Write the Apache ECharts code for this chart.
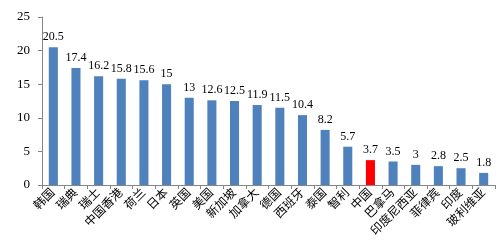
<!DOCTYPE html>
<html><head><meta charset="utf-8">
<script src="https://cdn.jsdelivr.net/npm/echarts@6/dist/echarts.min.js"></script>
<style>html,body{margin:0;padding:0;background:#fff}#c{width:503px;height:244px}</style>
</head><body><div id="c"></div>
<script>
const categories = ['韩国','瑞典','瑞士','中国香港','荷兰','日本','英国','美国','新加坡','加拿大','德国','西班牙','泰国','智利','中国','巴拿马','印度尼西亚','菲律宾','印度','玻利维亚'];
const values = [20.5,17.4,16.2,15.8,15.6,15,13,12.6,12.5,11.9,11.5,10.4,8.2,5.7,3.7,3.5,3,2.8,2.5,1.8];
const highlight = '中国';
const yTicks = [0,5,10,15,20,25];
const font = '"Liberation Serif","Noto Sans CJK SC",serif';
const chart = echarts.init(document.getElementById('c'));
chart.setOption({
  animation:false,
  grid:{left:42,right:8,top:17,bottom:59},
  xAxis:{type:'category',data:categories,
    axisLine:{lineStyle:{color:'#868686'}},
    axisTick:{show:true,alignWithLabel:false,lineStyle:{color:'#868686'},length:4},
    axisLabel:{rotate:45,interval:0,color:'#000',fontFamily:font,fontSize:12,margin:6}},
  yAxis:{type:'value',min:0,max:25,interval:5,
    axisLine:{show:true,lineStyle:{color:'#868686'}},
    axisTick:{show:true,lineStyle:{color:'#868686'},length:4},
    splitLine:{show:false},
    axisLabel:{color:'#000',fontFamily:font,fontSize:13,margin:12,
      formatter:v=>yTicks.includes(v)?String(v):''}},
  series:[{type:'bar',barCategoryGap:'60%',
    data:values.map((v,i)=>({value:v,itemStyle:{color:categories[i]===highlight?'#FF0000':'#4F81BD'}})),
    label:{show:true,position:'top',color:'#000',fontFamily:font,fontSize:12,distance:4}}]
});
</script></body></html>
